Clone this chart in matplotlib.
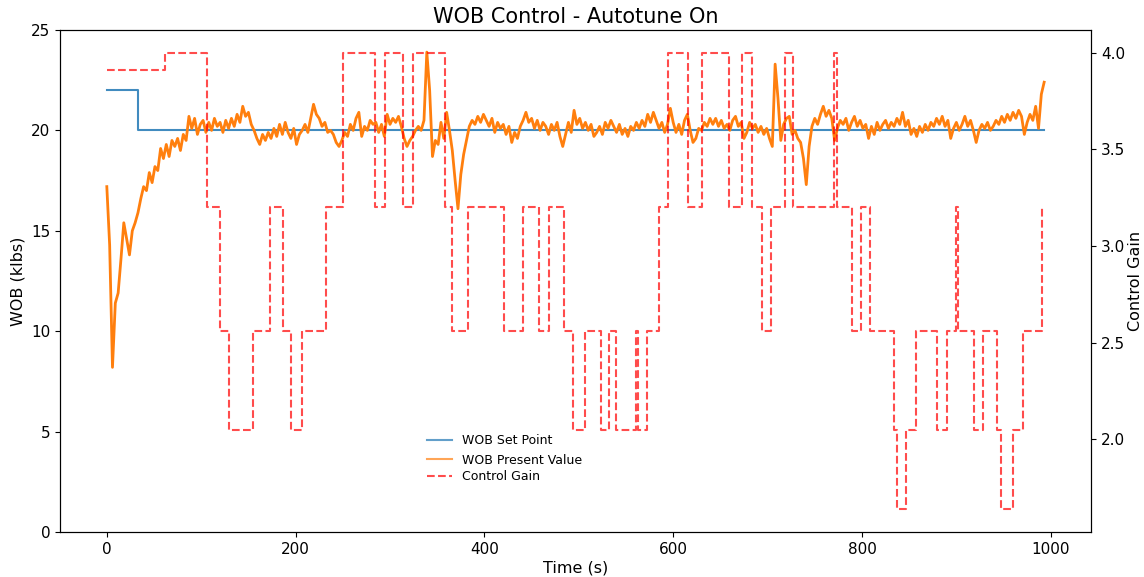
import numpy as np
import matplotlib
matplotlib.use("Agg")
import matplotlib.pyplot as plt

sample_dt = 3
wob_pv = [
    17.2, 14.3, 8.2, 11.4, 11.9, 13.6, 15.4, 14.6, 13.8, 15.0,
    15.4, 15.9, 16.6, 17.2, 17.0, 17.9, 17.4, 18.2, 18.0, 19.1,
    18.6, 19.3, 18.7, 19.5, 19.2, 19.6, 19.0, 19.8, 19.5, 20.7,
    20.1, 20.6, 19.8, 20.3, 20.5, 19.9, 20.4, 20.0, 20.6, 20.2,
    20.4, 19.9, 20.5, 20.1, 20.6, 20.2, 20.8, 20.4, 21.2, 20.7,
    20.9, 20.3, 20.0, 19.6, 19.3, 19.8, 19.5, 19.9, 19.6, 20.1,
    19.7, 20.3, 19.8, 20.4, 19.9, 19.6, 20.1, 19.3, 19.8, 20.0,
    20.3, 19.9, 20.6, 21.3, 20.8, 20.6, 20.2, 20.4, 19.9, 20.0,
    19.8, 19.4, 19.2, 19.5, 19.9, 19.7, 20.3, 20.0, 20.6, 20.9,
    19.7, 20.2, 20.0, 20.5, 20.3, 20.4, 19.9, 20.3, 19.7, 20.8,
    20.3, 20.6, 20.4, 20.7, 20.2, 19.6, 19.2, 19.5, 19.7, 20.0,
    20.2, 20.0, 20.5, 23.9, 22.0, 18.7, 19.5, 19.3, 20.4, 19.6,
    20.9, 20.0, 19.0, 17.5, 16.1, 17.8, 18.8, 19.5, 20.2, 20.5,
    20.3, 20.7, 20.4, 20.8, 20.5, 20.2, 20.6, 19.9, 20.4, 20.1,
    20.3, 19.8, 20.2, 19.4, 19.9, 19.6, 20.2, 20.5, 20.9, 20.4,
    20.6, 20.1, 20.5, 20.0, 20.4, 20.2, 19.8, 20.3, 20.0, 20.4,
    19.7, 19.2, 19.8, 20.4, 19.9, 21.0, 20.3, 20.6, 20.1, 20.4,
    20.0, 20.3, 19.7, 19.9, 20.2, 19.8, 20.4, 20.1, 20.5, 20.2,
    19.9, 20.3, 19.8, 20.1, 19.7, 20.2, 20.0, 20.4, 20.1, 20.5,
    20.2, 20.8, 20.4, 20.9, 20.5, 20.1, 20.4, 19.9, 20.3, 21.1,
    20.4, 19.9, 20.3, 19.8, 20.5, 20.8, 20.0, 19.4, 19.6, 20.1,
    20.0, 20.4, 20.2, 20.6, 20.3, 20.6, 20.2, 20.5, 20.1, 20.3,
    20.0, 20.5, 20.7, 20.2, 20.4, 19.6, 19.9, 20.4, 20.1, 20.3,
    19.9, 20.2, 19.8, 20.1, 19.6, 19.2, 23.3, 21.6, 19.5, 20.3,
    20.6, 20.7, 19.8, 20.0, 19.6, 19.4, 18.6, 17.3, 19.2, 20.2,
    20.6, 20.3, 20.8, 21.2, 20.7, 21.0, 20.6, 19.5, 20.1, 20.5,
    20.3, 20.6, 20.0, 20.4, 20.7, 20.2, 20.5, 20.1, 20.3, 19.6,
    20.2, 19.8, 20.4, 20.0, 20.3, 20.5, 20.1, 20.4, 20.2, 20.6,
    20.3, 20.9, 20.2, 20.5, 19.8, 20.1, 19.7, 20.2, 19.9, 20.3,
    20.0, 20.4, 20.2, 20.6, 20.3, 20.7, 20.2, 20.5, 19.6, 20.1,
    20.4, 20.0, 20.3, 20.7, 20.2, 20.5, 20.0, 19.4, 20.0, 20.3,
    20.1, 20.4, 20.0, 20.2, 20.5, 20.3, 20.7, 20.4, 20.8, 20.5,
    20.9, 20.6, 21.0, 20.7, 19.8, 20.4, 20.8, 20.5, 21.2, 20.1,
    21.8, 22.4,
]

# WOB set point (step changes)
sp_time = [0, 32.6, 993]
sp_value = [22, 20, 20]

# control gain (step changes)
gain_time = [
    0, 61.6, 106.5, 119.6, 129.5, 155, 172.7, 186.8, 195.6, 206.3,
    232.1, 249.8, 284.4, 295, 314.2, 324.1, 358.1, 365.5, 382.2, 420.4,
    440.9, 457.9, 468.5, 484.4, 494, 506.4, 523, 532.2, 539.3, 560.2,
    562.3, 572.5, 584.9, 594.8, 616, 630.9, 659.6, 673.4, 684, 693.9,
    703.8, 718, 726.8, 770, 773.5, 789.4, 799, 808.2, 833.7, 837.2,
    847.1, 857.7, 879, 889.6, 899.2, 902, 918.6, 928.1, 942.7, 946.9,
    960.4, 970.6, 990.4,
]
gain_value = [
    3.91, 4.0, 3.2, 2.56, 2.048, 2.56, 3.2, 2.56, 2.048, 2.56,
    3.2, 4.0, 3.2, 4.0, 3.2, 4.0, 3.2, 2.56, 3.2, 2.56,
    3.2, 2.56, 3.2, 2.56, 2.048, 2.56, 2.048, 2.56, 2.048, 2.56,
    2.048, 2.56, 3.2, 4.0, 3.2, 4.0, 3.2, 4.0, 3.2, 2.56,
    3.2, 4.0, 3.2, 4.0, 3.2, 2.56, 3.2, 2.56, 2.048, 1.6384,
    2.048, 2.56, 2.048, 2.56, 3.2, 2.56, 2.048, 2.56, 2.048, 1.6384,
    2.048, 2.56, 3.2,
]

pv_time = np.arange(len(wob_pv)) * sample_dt

fig = plt.figure(figsize=(11.44, 5.77), dpi=100)
ax = fig.add_axes([0.0524, 0.078, 0.9013, 0.870])

ax.step(sp_time, sp_value, where='post', color='#1f77b4', alpha=0.85, label='WOB Set Point')
ax.plot(pv_time, wob_pv, color='#ff7f0e', linewidth=2.0, label='WOB Present Value')
ax.set_ylim(0, 25)
ax.set_xlabel('Time (s)', fontsize=11.5, labelpad=3)
ax.set_ylabel('WOB (klbs)', fontsize=11.5)
ax.set_title('WOB Control - Autotune On', fontsize=15, pad=5)
ax.tick_params(labelsize=11)

ax2 = ax.twinx()
ax2.step(gain_time, gain_value, where='post', color='red', linestyle='--', alpha=0.7, label='Control Gain')
ax2.set_ylabel('Control Gain', fontsize=11.5, labelpad=2)
ax2.tick_params(labelsize=11)
ax2.set_yticks([2.0, 2.5, 3.0, 3.5, 4.0])

leg = ax.legend(loc='upper left', bbox_to_anchor=(0.345, 0.217), frameon=False, fontsize=9)
for h in leg.get_lines():
    h.set_linewidth(1.5)
    h.set_alpha(0.7)
ax2.legend(loc='upper left', bbox_to_anchor=(0.345, 0.145), frameon=False, fontsize=9)

fig.savefig('out.png', dpi=100)
